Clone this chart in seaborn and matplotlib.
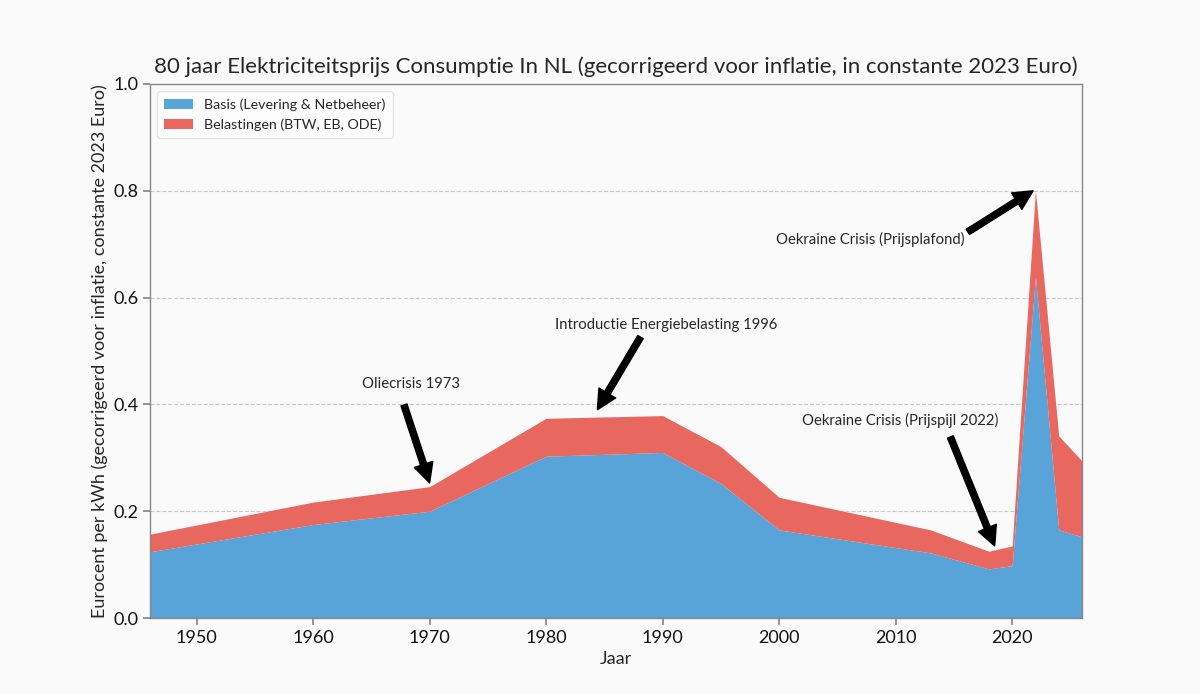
import numpy as np
import matplotlib
matplotlib.use("Agg")
import matplotlib.pyplot as plt
import seaborn as sns

sns.set_theme(style="white")
plt.rcParams['font.family'] = ['Lato', 'DejaVu Sans']

jaren = [1946, 1960, 1970, 1980, 1990, 1995, 2000, 2013, 2018, 2020, 2022, 2024, 2026]
basis = [0.124, 0.175, 0.200, 0.303, 0.310, 0.252, 0.165, 0.122, 0.092, 0.098, 0.639, 0.165, 0.152]
totaal = [0.157, 0.217, 0.246, 0.374, 0.379, 0.321, 0.226, 0.165, 0.125, 0.135, 0.800, 0.341, 0.294]
belasting = [t - b for t, b in zip(totaal, basis)]

blauw = "#58A3D8"
rood = "#E8675E"

fig = plt.figure(figsize=(12, 6.94), dpi=100, facecolor="#fafafa")
ax = fig.add_axes([0.125, 0.1095, 0.7767, 0.7695])
ax.set_facecolor("#fafafa")

ax.stackplot(jaren, basis, belasting, colors=[blauw, rood], linewidth=0,
             labels=["Basis (Levering & Netbeheer)", "Belastingen (BTW, EB, ODE)"])

ax.set_xlim(1946, 2026)
ax.set_ylim(0, 1.0)
ax.set_xticks(range(1950, 2021, 10))
ax.set_yticks(np.arange(0, 1.01, 0.2))
ax.yaxis.grid(True, linestyle="--", color="#c8c8c8", linewidth=0.8)
ax.set_axisbelow(True)
for s in ax.spines.values():
    s.set_color("#888888")
    s.set_linewidth(1)
ax.tick_params(axis="both", labelsize=13, colors="#111111", length=5, color="#888888", bottom=True, left=True)

ax.set_title("80 jaar Elektriciteitsprijs Consumptie In NL (gecorrigeerd voor inflatie, in constante 2023 Euro)",
             fontsize=16, pad=8)
ax.set_xlabel("Jaar", fontsize=13, labelpad=4)
ax.set_ylabel("Eurocent per kWh (gecorrigeerd voor inflatie, constante 2023 Euro)", fontsize=13, labelpad=4)

leg = ax.legend(loc="upper left", fontsize=10.3, frameon=True, handlelength=2.0, borderpad=0.5)
leg.get_frame().set_edgecolor("#dddddd")

# annotaties: tekst en pijl los
pijl = dict(facecolor="black", edgecolor="black", width=4.5, headwidth=14, headlength=14, shrink=0)
teksten = [
    ("Oliecrisis 1973", (1968.4, 0.438), (1967.8, 0.399), (1970.0, 0.253)),
    ("Introductie Energiebelasting 1996", (1990.3, 0.549), (1988.1, 0.526), (1984.4, 0.390)),
    ("Oekraine Crisis (Prijspijl 2022)", (2010.4, 0.369), (2014.7, 0.339), (2018.5, 0.135)),
    ("Oekraine Crisis (Prijsplafond)", (2007.8, 0.708), (2016.2, 0.723), (2021.8, 0.800)),
]
for tekst, pos, staart, kop in teksten:
    ax.text(pos[0], pos[1], tekst, fontsize=10.7, ha="center", va="center")
    ax.annotate("", xy=kop, xytext=staart, arrowprops=pijl)

fig.savefig("out.png", dpi=100, facecolor=fig.get_facecolor())
